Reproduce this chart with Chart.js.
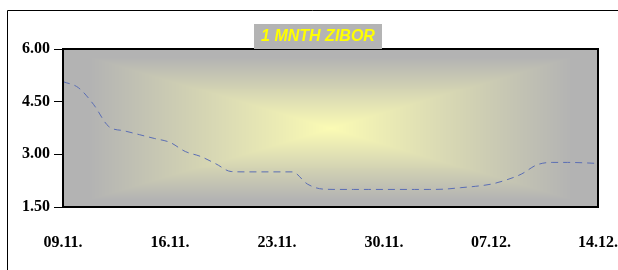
<!DOCTYPE html>
<html>
<head>
<meta charset="utf-8">
<script src="https://cdn.jsdelivr.net/npm/chart.js@4/dist/chart.umd.min.js"></script>
<style>
  body { margin: 0; background: #fff; }
  canvas { display: block; }
</style>
</head>
<body>
<canvas id="zibor" width="618" height="270"></canvas>
<script>
// daily fixings, 09.11. - 14.12.
const days = [
  "09.11.", "10.11.", "11.11.", "12.11.", "13.11.", "14.11.", "15.11.",
  "16.11.", "17.11.", "18.11.", "19.11.", "20.11.", "21.11.", "22.11.",
  "23.11.", "24.11.", "25.11.", "26.11.", "27.11.", "28.11.", "29.11.",
  "30.11.", "01.12.", "02.12.", "03.12.", "04.12.", "05.12.", "06.12.",
  "07.12.", "08.12.", "09.12.", "10.12.", "11.12.", "12.12.", "13.12.",
  "14.12."
];
const zibor1m = [
  5.07, 4.90, 4.42, 3.79, 3.67, 3.56, 3.45,
  3.34, 3.08, 2.94, 2.73, 2.51, 2.50, 2.50,
  2.50, 2.50, 2.15, 2.01, 2.00, 2.00, 2.00,
  2.00, 2.00, 2.00, 2.00, 2.01, 2.05, 2.09,
  2.15, 2.27, 2.44, 2.70, 2.77, 2.77, 2.76,
  2.74
];
const yTicks = [1.5, 3.0, 4.5, 6.0];
const chartTitle = "1 MNTH ZIBOR";

// excel-like "from centre" fill of the plot area
const plotFill = {
  id: 'plotFill',
  beforeDatasetsDraw(chart) {
    const a = chart.chartArea, ctx = chart.ctx;
    const w = Math.round(a.right - a.left), h = Math.round(a.bottom - a.top);
    const img = ctx.createImageData(w, h);
    const edge = [179, 179, 179], mid = [251, 251, 180];
    for (let y = 0; y < h; y++) {
      for (let x = 0; x < w; x++) {
        const dx = Math.abs(x - w / 2) / (w / 2), dy = Math.abs(y - h / 2) / (h / 2);
        let t = Math.min(1, Math.max(dx, dy) / 0.9);
        const i = (y * w + x) * 4;
        for (let c = 0; c < 3; c++) img.data[i + c] = mid[c] + (edge[c] - mid[c]) * t;
        img.data[i + 3] = 255;
      }
    }
    ctx.putImageData(img, Math.round(a.left), Math.round(a.top));
  },
  afterDraw(chart) {
    const a = chart.chartArea, ctx = chart.ctx;
    ctx.save();
    // plot frame
    ctx.strokeStyle = '#000';
    ctx.lineWidth = 2;
    ctx.strokeRect(a.left, a.top, a.right - a.left, a.bottom - a.top);
    // outer chart frame (runs off the picture)
    ctx.lineWidth = 1;
    ctx.beginPath();
    ctx.moveTo(7.5, chart.height);
    ctx.lineTo(7.5, 10.5);
    ctx.lineTo(chart.width, 10.5);
    ctx.stroke();
    // title box
    ctx.fillStyle = '#b4b4b4';
    ctx.fillRect(254, 24, 128, a.top - 24);
    ctx.fillStyle = '#ffff00';
    ctx.font = 'italic bold 16px "Liberation Sans", Arial, sans-serif';
    ctx.textAlign = 'center';
    ctx.textBaseline = 'middle';
    ctx.fillText(chartTitle, 318, 37);
    ctx.restore();
  }
};

const tickFont = { family: '"Liberation Serif", "Times New Roman", serif', size: 16, weight: 'bold' };

new Chart(document.getElementById('zibor'), {
  type: 'line',
  data: {
    labels: days,
    datasets: [{
      data: zibor1m,
      borderColor: '#5a6db4',
      borderWidth: 1,
      borderDash: [7, 5],
      pointRadius: 0,
      cubicInterpolationMode: 'monotone',
      fill: false
    }]
  },
  options: {
    responsive: false,
    animation: false,
    devicePixelRatio: 1,
    layout: { padding: { top: 49, right: 20, left: 0, bottom: 0 } },
    plugins: { legend: { display: false }, tooltip: { enabled: false }, title: { display: false } },
    scales: {
      x: {
        offset: false,
        grid: { display: false },
        border: { display: false },
        ticks: {
          autoSkip: false,
          maxRotation: 0,
          padding: 18,
          color: '#000',
          font: tickFont,
          callback: function(v, i) { return i % 7 === 0 ? days[i] : ''; }
        },
        afterFit(scale) {
          scale.height = 63;
          scale.paddingLeft = 0;
          scale.paddingRight = 0;
        }
      },
      y: {
        min: 1.5,
        max: 6,
        afterBuildTicks(scale) { scale.ticks = yTicks.map(v => ({ value: v })); },
        grid: { drawOnChartArea: false, drawTicks: true, tickLength: 9, color: '#000', lineWidth: 1 },
        border: { display: false },
        ticks: {
          padding: 4,
          color: '#000',
          font: tickFont,
          callback: v => v.toFixed(2)
        },
        afterFit(scale) { scale.width = 63; }
      }
    }
  },
  plugins: [plotFill]
});
</script>
</body>
</html>
